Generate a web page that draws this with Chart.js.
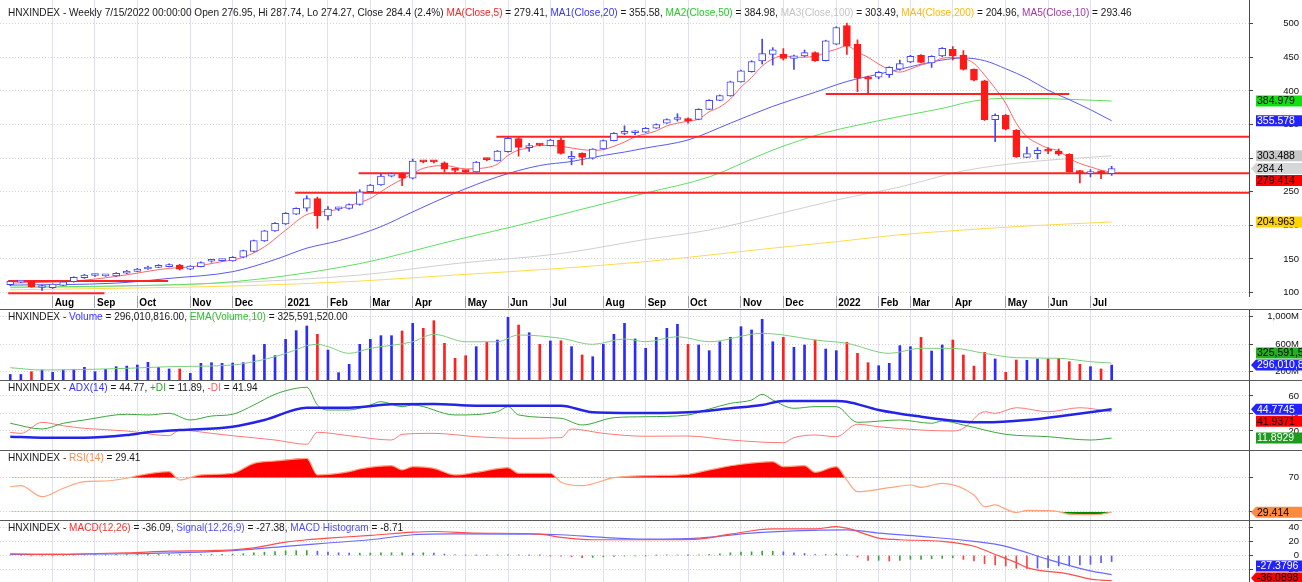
<!DOCTYPE html>
<html lang="en">
<head>
<meta charset="UTF-8">
<title>HNXINDEX - Weekly</title>
<script src="https://cdn.jsdelivr.net/npm/chart.js"></script>
<style>
  html, body { margin: 0; padding: 0; background: #fff; }
  #board { position: relative; width: 1302px; height: 582px; overflow: hidden; }
  #board canvas { position: absolute; left: 0; }
  .sep { position: absolute; left: 0; width: 1302px; height: 1px; background: #5a5a5a; }
</style>
</head>
<body>
<div id="board">
  <canvas id="priceChart" width="1302" height="309" style="top:0"></canvas>
  <div class="sep" style="top:309px"></div>
  <canvas id="volChart" width="1302" height="70" style="top:310px"></canvas>
  <div class="sep" style="top:380px"></div>
  <canvas id="adxChart" width="1302" height="69" style="top:381px"></canvas>
  <div class="sep" style="top:450px"></div>
  <canvas id="rsiChart" width="1302" height="69" style="top:451px"></canvas>
  <div class="sep" style="top:520px"></div>
  <canvas id="macdChart" width="1302" height="61" style="top:521px"></canvas>
</div>

<script>
// one bar per week, 7/10/2020 .. 7/15/2022 (no bar for the Tet week 2/4/2022)
const monthAt   = [4, 8, 12, 17, 21, 26, 30, 34, 38, 43, 47, 51, 56, 60, 64, 69, 73, 78, 82, 85, 89, 94, 98, 102];
const monthName = ['Aug', 'Sep', 'Oct', 'Nov', 'Dec', '2021', 'Feb', 'Mar', 'Apr', 'May', 'Jun', 'Jul',
                   'Aug', 'Sep', 'Oct', 'Nov', 'Dec', '2022', 'Feb', 'Mar', 'Apr', 'May', 'Jun', 'Jul'];
const lastDate = '7/15/2022 00:00:00';

const open = [
  111.6, 115.5, 117, 107.5, 107.2, 110.5, 116, 122, 125.3, 124.8,
  124.6, 128.6, 131.5, 135, 137.5, 138.5, 141, 134.6, 138.5, 146.5,
  147.5, 147, 152.5, 161, 176.8, 191.7, 202, 216.5, 225.4, 239.8,
  214, 224.5, 225, 231, 250, 260, 273, 277, 270, 295,
  295, 293, 282.5, 280.5, 279.6, 298.5, 296, 309.5, 329, 315.5,
  320, 318.6, 327, 299.6, 307, 300, 313.5, 326, 336.8, 337.8,
  338.5, 344.5, 352, 357.5, 359, 357.7, 372.6, 386, 392.7, 413.5,
  428.8, 444.7, 454.4, 454.4, 448.5, 452, 457, 445, 469.6, 497.4,
  469.6, 421, 420.6, 424, 432.5, 443, 452.9, 441.5, 451.9, 462,
  453.5, 432, 415, 357.3, 363.7, 341.4, 301, 306.7, 311, 310.6,
  305.7, 280, 277, 281, 276.95];
const high = [
  117.5, 116.5, 117.5, 111, 113, 117, 123.5, 127, 127.5, 127,
  129.5, 133, 136, 139.5, 141.5, 142.5, 142, 140, 145.5, 149,
  149.5, 153.5, 163, 178, 192.5, 204, 219, 226, 244, 242,
  228, 227, 232, 253, 261, 277, 278, 278, 298.5, 296,
  296.5, 294.5, 285, 282, 295, 300, 311.5, 331, 330.5, 322,
  321, 328, 330, 310, 308, 314, 327, 338, 348, 341,
  345.5, 351, 358.5, 366, 360, 373.5, 387, 394, 414.5, 431,
  445, 477, 464.4, 463, 453.5, 461, 458, 475.5, 495.5, 501,
  476, 422, 429, 436, 446, 453, 454, 452.5, 464.5, 466,
  460, 433, 416, 366, 365, 342.5, 316.6, 315.6, 315.6, 313.6,
  306.5, 282, 283, 281.5, 287.74];
const low = [
  110, 114.5, 108, 103, 106, 110, 115.5, 121, 124, 124,
  124, 128, 131, 134.5, 137, 138, 133.5, 134, 138, 145,
  146.5, 146.5, 152, 160.5, 176, 191, 201, 216, 221, 195.6,
  208, 222, 224, 230, 249.5, 259.5, 272, 259, 269, 293,
  293, 279, 279, 278, 279, 296, 295.5, 309, 303, 310,
  318, 318, 306, 290, 290, 298.5, 313, 325.5, 335, 335,
  338, 344, 351.5, 355, 352, 357, 372, 385.5, 392, 413,
  428, 440, 438.5, 446, 432, 451, 444, 444.5, 469, 454.4,
  399, 396.4, 418, 420, 431, 442, 441.5, 435, 451, 446,
  431, 415, 356, 324.4, 342, 301, 300.5, 299, 306.7, 304,
  279, 263, 272, 269.5, 274.27];
const close = [
  116.6, 116, 108.5, 108.5, 112.6, 116, 122.5, 126, 125.9, 125.4,
  128.6, 132, 135, 138, 140.5, 141.5, 134.6, 139.5, 144.5, 147.3,
  148.2, 152.5, 162.4, 177.3, 191.7, 203, 218, 225.4, 239.8, 214.5,
  224, 225.3, 231, 250, 260, 273.4, 277, 270, 295.6, 294.3,
  294.3, 283.6, 281.8, 279.8, 294, 297.8, 310.5, 329.3, 316, 316.5,
  319.3, 327, 307, 300.4, 301, 313.5, 326, 337, 337.6, 338.5,
  344.5, 350, 357.5, 358.3, 355.5, 372.6, 386, 393, 413.5, 429.8,
  443.7, 455.6, 461, 448.5, 452.4, 457, 445, 474.6, 494.4, 467,
  419, 417.5, 427.5, 435, 440.5, 451.4, 442.5, 451.4, 463.3, 452,
  432, 416, 357.3, 363.7, 342.9, 301.7, 306.7, 311.6, 310.3, 305.7,
  279.4, 278.5, 277.6, 277.7, 284.4];

// moving averages, read at the weeks listed in the *At arrays
const ma5At = [0, 6, 10, 15, 17, 20, 22, 24, 26, 28, 30, 31, 32, 34, 35, 36, 37, 38, 39, 41, 43, 45, 46, 47, 48, 49, 50,
               52, 54, 55, 56, 57, 58, 59, 61, 62, 64, 65, 66, 67, 68, 69, 70, 71, 72, 73, 74, 76, 77, 78, 79, 80, 81,
               82, 83, 84, 85, 86, 87, 88, 89, 90, 91, 92, 93, 94, 95, 96, 97, 98, 99, 100, 101, 102, 103, 104];
const ma5 = [114, 117, 124, 136, 138, 146, 152.4, 168, 192.7, 216, 221, 224, 229, 240, 250, 260, 268.4, 277, 284.8, 289, 284, 286, 291, 304, 312, 315, 319,
             317.6, 312.6, 311.6, 312.6, 317.6, 324, 331.6, 340.5, 348, 355, 358, 369, 376, 388, 405.6, 420, 437, 447.6, 452.5, 450, 451.5, 457.4, 462, 467, 458, 450,
             440, 432, 428, 432.6, 438.6, 442.5, 448.5, 450, 448.5, 441, 423.7, 403.8, 381.5, 351.7, 331.9, 322, 314.6, 311, 299.6, 292, 287, 282, 279.414];
const ma20At = [0, 10, 15, 21, 25, 28, 31, 35, 38, 42, 46, 50, 53, 56, 58, 60, 64, 68, 72, 76, 79, 82, 85, 88, 90, 92, 94, 96, 98, 100, 102, 104];
const ma20 = [111, 114, 121, 131, 149, 166, 177, 198, 220, 248, 272, 289, 295, 304, 309, 315, 327, 352, 377, 398, 414, 425, 436, 446, 449, 445, 433, 419, 401, 387, 372, 355.578];
const ma50At = [0, 11, 21, 33, 42, 48, 50, 60, 66, 72, 77, 80, 84, 88, 91, 94, 98, 104];
const ma50 = [108, 110, 116, 143, 178, 200, 208, 248, 272, 312, 338, 349, 362, 374, 385, 389, 388.5, 384.979];
const ma100At = [0, 12, 20, 33, 42, 52, 60, 66, 72, 78, 84, 90, 96, 104];
const ma100 = [107, 110, 114, 126, 143, 158, 179, 193, 215, 237.6, 257, 281, 294, 303.488];
const ma200At = [0, 11, 22, 33, 42, 52, 60, 72, 78, 84, 90, 96, 104];
const ma200 = [104, 106.5, 110, 117, 126, 136, 146, 166, 175.6, 186, 193, 199, 204.963];
const ma10Last = 293.46;

// support / resistance levels: price, first week, last week
const levelPrice = [117, 99, 248.5, 277.4, 331.8, 395.4];
const levelFrom  = [-0.2, -0.2, 26.9, 32.9, 45.9, 77];
const levelTo    = [14.9, 8.9, 117, 117, 117, 100];

// volume in millions and its EMA(10)
const volume = [
  160, 160, 200, 225, 191, 225, 235, 264, 200, 235,
  273, 282, 297, 336, 264, 240, 240, 176, 322, 331,
  322, 326, 331, 443, 598, 433, 671, 797, 865, 744,
  515, 186, 307, 598, 671, 724, 724, 792, 903, 831,
  942, 613, 395, 433, 564, 627, 661, 991, 879, 767,
  598, 647, 651, 564, 443, 418, 598, 744, 903, 676,
  540, 700, 831, 889, 598, 589, 506, 636, 700, 855,
  807, 962, 636, 700, 555, 589, 661, 530, 506, 627,
  467, 331, 287, 322, 579, 564, 700, 501, 589, 661,
  443, 282, 482, 385, 191, 370, 366, 385, 385, 395,
  346, 307, 273, 240, 296.010816];
const volEmaAt = [0, 3, 11, 15, 21, 23, 25, 27, 28, 29, 30, 32, 34, 38, 40, 43, 46, 48, 52, 55, 58, 60, 63, 66, 71, 73, 76, 79,
                  83, 86, 89, 92, 95, 99, 102, 104];
const volEma = [258, 225, 249, 273, 297, 346, 418, 520, 578, 598, 564, 467, 540, 636, 744, 636, 636, 734, 686, 598, 676, 636, 709, 636, 758, 734, 661, 613,
                467, 540, 540, 467, 404, 395, 346, 325.59152];

// ADX(14), +DI, -DI
const adxAt = [0, 3, 7, 11, 13, 16, 21, 24, 28, 32, 36, 40, 44, 52, 55, 60, 65, 68, 71, 73, 78, 79, 82, 86, 90, 92, 96, 100, 104];
const adx = [13.5, 12.4, 12.4, 15.4, 18.5, 21.1, 24.9, 32.6, 46.6, 46.6, 50.5, 50.9, 48.9, 48.9, 41.4, 40.5, 42, 45.9, 49.7, 54.3, 54.3, 53.5, 44, 36.3, 30.6, 29.9, 32.6, 38.3, 44.7745];
const pdiAt = [0, 3, 5, 7, 11, 13, 15, 17, 19, 21, 23, 25, 27, 28, 29, 30, 32, 34, 35, 37, 38, 42, 46, 47, 48, 52, 54, 57, 60, 64,
               66, 68, 70, 71, 72, 74, 76, 78, 80, 84, 87, 88, 90, 94, 98, 102, 104];
const pdi = [28.8, 22.3, 28.8, 32.6, 39.1, 38.3, 40.2, 32.6, 37.1, 39.1, 49.7, 61.9, 68.8, 69.9, 49.7, 44, 44, 49.7, 53.5, 47.8, 49.7, 38.3, 42, 47.8, 38.3, 34.5, 26.9, 35.2, 36.3, 38.3,
             45.1, 51.6, 55.4, 61.9, 55.4, 45.9, 47.8, 47.8, 29.9, 32.6, 28.8, 31.4, 26.9, 16.2, 13.5, 9.7, 11.8929];
const mdiAt = [0, 1, 3, 5, 7, 11, 15, 16, 19, 21, 25, 28, 29, 32, 36, 37, 40, 44, 48, 52, 53, 56, 60, 64, 68, 73, 74, 76, 78, 80,
               82, 86, 89, 90, 92, 93, 95, 98, 101, 104];
const mdi = [18.5, 17.3, 29.9, 26, 23, 20, 14.6, 21.1, 17.3, 14.6, 9.7, 4.8, 18.5, 14.6, 9.7, 16.2, 17.3, 13.5, 11.7, 12.4, 22.3, 17.3, 14, 14.3, 9.7, 6.6, 12.4, 15.4, 13.5, 27.7,
             24.9, 21.1, 20, 23, 42, 40.2, 46.6, 42, 46.6, 41.9371];

// RSI(14)
const rsiAt = [0, 1, 3, 5, 7, 9, 11, 12, 15, 16, 18, 21, 23, 25, 28, 29, 32, 33, 36, 37, 38, 40, 42, 44, 47, 48, 51, 52, 54, 57,
               60, 64, 66, 69, 72, 73, 75, 76, 78, 79, 80, 83, 85, 86, 88, 91, 92, 93, 94, 95, 96, 98, 99, 100, 102, 103, 104];
const rsi = [59.4, 60.6, 47.6, 57.5, 65.3, 66.1, 69.3, 72.4, 77.1, 67.3, 73.2, 75.2, 86.9, 89.6, 92.8, 73.2, 77.1, 80.2, 84.1, 79.1, 83, 81, 73.2, 76.4, 81.8, 75.2, 75.2, 64.6, 60.6, 70,
             72.4, 74, 79.1, 85.8, 88.8, 83, 84.1, 76.4, 83, 67, 53.5, 58.2, 61.4, 58.7, 63.4, 49.6, 35.9, 37.9, 33, 29, 31.5, 31.2, 30, 27, 26.5, 27, 29.414];

// MACD(12,26), signal(12,26,9) and histogram
const macdAt = [0, 4, 7, 11, 15, 19, 21, 23, 26, 28, 30, 34, 38, 40, 44, 50, 52, 55, 60, 65, 68, 72, 76, 78, 79, 82, 84, 88, 91, 93, 95, 96, 100, 102, 103, 104];
const macd = [2.4, 1.4, 2.4, 3.8, 6.1, 7, 8, 10.8, 19, 22.5, 24.9, 28.6, 33.3, 34.3, 32, 30.5, 25.8, 22.5, 22.5, 23.5, 30.5, 38, 38, 41.3, 39, 24.9, 22.5, 20.2, 13.1, 1.4, -10.3, -17.4, -26.8, -33.8, -35.3, -36.0898];
const signalAt = [0, 11, 21, 26, 30, 34, 38, 42, 48, 52, 56, 60, 65, 70, 74, 79, 82, 86, 91, 94, 98, 102, 104];
const signal = [1.4, 2.4, 7, 13.1, 17.8, 22.5, 29.6, 31, 30.5, 29.6, 25.8, 23.5, 24.9, 32, 35.2, 36.6, 32, 27.2, 20.2, 13.1, -5.6, -22.1, -27.3796];
const hist = [
  0.6, 0.3, -0.5, -0.6, -0.3, 0.2, 0.5, 0.8, 0.9, 1.0,
  1.2, 1.3, 1.4, 1.5, 1.6, 1.6, 1.2, 1.0, 1.2, 1.4,
  1.5, 1.8, 2.5, 3.8, 4.7, 5.6, 6.6, 7.0, 7.0, 6.1,
  4.7, 3.8, 3.3, 3.3, 3.4, 3.8, 3.8, 3.8, 3.3, 3.8,
  3.3, 1.9, 0.8, 0.4, 0.3, 0.3, 0.4, 0.6, 0.5, 0.3,
  0.2, -0.3, -0.9, -1.9, -3.3, -2.8, -1.9, -1.4, -0.9, -0.5,
  -0.2, 0.3, 0.6, 0.8, 0.5, 0.8, 1.4, 2.3, 3.8, 4.7,
  5.2, 6.1, 6.1, 5.2, 3.8, 2.8, 1.4, 1.4, 2.3, 0.3,
  -2.3, -7.0, -7.0, -8.0, -7.0, -5.6, -5.6, -4.7, -4.2, -3.3,
  -5.6, -8.0, -11.7, -13.6, -15.0, -18.3, -18.5, -18.3, -17.4, -15.0,
  -15.0, -13.6, -12.7, -10.3, -8.7102];

// ---- drawing ----
const FONT = '"Liberation Sans", Arial, sans-serif';
Chart.defaults.font.family = FONT;
const X_MIN = -0.97, X_MAX = 116.97;
const INK = '#1a1a1a';
const UP = '#4646ff', DOWN = '#ff1a1a';
const last = a => a[a.length - 1];
const idx = close.map((_, i) => i);
const isUp = i => close[i] >= open[i];
const pts = (at, vals) => at.map((x, k) => ({ x, y: vals[k] }));
const lastAt = (at, vals, i) => { let v = vals[0]; at.forEach((x, k) => { if (x <= i) v = vals[k]; }); return v; };
const boxText = v => String(+v.toPrecision(6));

function line(at, vals, color, width, order) {
  return { type: 'line', data: pts(at, vals), borderColor: color, borderWidth: width, pointRadius: 0,
           cubicInterpolationMode: 'monotone', fill: false, order };
}

function xAxis(labels) {
  return {
    type: 'linear', min: X_MIN, max: X_MAX, offset: false,
    afterBuildTicks: s => { s.ticks = monthAt.map(v => ({ value: v })); },
    afterFit: s => { s.height = labels ? 13 : 0; s.paddingLeft = 0; s.paddingRight = 0; },
    grid: { offset: false, color: '#dfdff6', tickColor: '#a0a0b0', drawTicks: labels, tickLength: 12 },
    border: { display: false },
    ticks: { display: labels, autoSkip: false, maxRotation: 0, align: 'start', padding: -11, labelOffset: 2,
             color: '#000', font: { size: 10, weight: 'bold' }, callback: (v, i) => monthName[i] }
  };
}

function yAxis(min, max, ticks, fmt) {
  return {
    type: 'linear', position: 'right', min, max,
    afterBuildTicks: s => { s.ticks = ticks.map(v => ({ value: v })); },
    afterFit: s => { s.width = 50; s.paddingTop = 0; s.paddingBottom = 0; },
    grid: { color: '#d2d2d2', tickColor: '#444', tickLength: 4 },
    border: { display: true, color: '#4a4a4a', dash: [1, 2] },
    ticks: { color: '#111', font: { size: 9.5 }, crossAlign: 'far', padding: 0, callback: fmt || (v => String(v)) }
  };
}

// pane caption (multi-coloured) and the value tags on the right axis
const paneDecor = {
  id: 'paneDecor',
  afterDraw(chart, args, opts) {
    const ctx = chart.ctx, ys = chart.scales.y;
    ctx.save();
    ctx.textBaseline = 'middle';
    ctx.textAlign = 'left';
    ctx.font = '10.08px ' + FONT;
    let x = 8;
    opts.title.forEach(([text, color]) => {
      ctx.fillStyle = color;
      ctx.fillText(text, x, opts.titleY);
      x += ctx.measureText(text).width;
    });
    const h = 11, gap = 12, left = ys.left + 7, right = chart.width;
    const used = [];
    ctx.font = '10.5px ' + FONT;
    (opts.boxes || []).forEach(b => {
      let y = Math.min(ys.getPixelForValue(b.value), chart.chartArea.bottom - 4);
      used.forEach(u => { if (Math.abs(y - u) < gap) y = y >= u ? u + gap : u - gap; });
      used.push(y);
      ctx.fillStyle = b.bg;
      ctx.beginPath();
      if (b.arrow) { ctx.moveTo(ys.left + 2, y); ctx.lineTo(left, y - h / 2); }
      else ctx.moveTo(left, y - h / 2);
      ctx.lineTo(right, y - h / 2);
      ctx.lineTo(right, y + h / 2);
      ctx.lineTo(left, y + h / 2);
      ctx.closePath();
      ctx.fill();
      ctx.fillStyle = b.fg;
      ctx.fillText(b.text, left + 1, y + 0.5);
    });
    ctx.restore();
  }
};

const base = { responsive: false, animation: false, events: [], layout: { padding: { right: 3 } } };
const quiet = { legend: { display: false }, tooltip: { enabled: false } };

// price pane
const C = { ma5: '#ff6666', ma20: '#5a5af0', ma50: '#5fe05f', ma100: '#cfcfcf', ma200: '#ffdb4d', ma10: '#aa33aa' };
const chg = ((last(close) / close[close.length - 2] - 1) * 100).toFixed(1);
const f2 = v => v.toFixed(2);

new Chart(document.getElementById('priceChart'), {
  type: 'bar',
  data: {
    datasets: [
      { type: 'bar', data: idx.map(i => ({ x: i, y: [open[i], close[i]] })), order: 0, grouped: false,
        backgroundColor: idx.map(i => isUp(i) ? '#ffffff' : DOWN), borderColor: idx.map(i => isUp(i) ? UP : DOWN),
        borderWidth: 1, borderSkipped: false, barThickness: 7, minBarLength: 2 },
      { type: 'bar', data: idx.map(i => ({ x: i, y: [low[i], high[i]] })), order: 1, grouped: false,
        backgroundColor: idx.map(i => isUp(i) ? UP : DOWN), barThickness: 1 },
      ...levelPrice.map((p, k) => ({ type: 'line', data: [{ x: levelFrom[k], y: p }, { x: levelTo[k], y: p }],
        borderColor: '#ff2424', borderWidth: 2, pointRadius: 0, order: 2 })),
      line(ma5At, ma5, C.ma5, 1, 3),
      line(ma20At, ma20, C.ma20, 1, 4),
      line(ma50At, ma50, C.ma50, 1, 5),
      line(ma100At, ma100, C.ma100, 1, 6),
      line(ma200At, ma200, C.ma200, 1, 7)
    ]
  },
  options: {
    ...base,
    scales: { x: xAxis(true), y: yAxis(94.8, 535.3, [100, 150, 200, 250, 300, 350, 400, 450, 500]) },
    plugins: {
      ...quiet,
      paneDecor: {
        titleY: 13,
        title: [
          [`HNXINDEX - Weekly ${lastDate} Open ${last(open)}, Hi ${last(high)}, Lo ${last(low)}, Close ${last(close)} (${chg}%) `, INK],
          ['MA(Close,5)', '#ff2020'], [` = ${f2(last(ma5))}, `, INK],
          ['MA1(Close,20)', '#3333ff'], [` = ${f2(last(ma20))}, `, INK],
          ['MA2(Close,50)', '#22cc22'], [` = ${f2(last(ma50))}, `, INK],
          ['MA3(Close,100)', '#c4c4c4'], [` = ${f2(last(ma100))}, `, INK],
          ['MA4(Close,200)', '#ffbb00'], [` = ${f2(last(ma200))}, `, INK],
          ['MA5(Close,10)', C.ma10], [` = ${f2(ma10Last)}`, INK]
        ],
        boxes: [
          { value: last(close), text: boxText(last(close)), bg: '#d6d6d6', fg: '#000', arrow: true },
          { value: last(ma50), text: boxText(last(ma50)), bg: '#10e010', fg: '#000' },
          { value: last(ma20), text: boxText(last(ma20)), bg: '#2323ff', fg: '#fff' },
          { value: last(ma100), text: boxText(last(ma100)), bg: '#c8c8c8', fg: '#000' },
          { value: last(ma5), text: boxText(last(ma5)), bg: '#ff0000', fg: '#000' },
          { value: last(ma200), text: boxText(last(ma200)), bg: '#ffd400', fg: '#000' }
        ]
      }
    }
  },
  plugins: [paneDecor]
});

// volume pane
const fullNum = m => Math.round(m * 1e6).toLocaleString('en-US');
new Chart(document.getElementById('volChart'), {
  type: 'bar',
  data: {
    datasets: [
      { type: 'bar', data: idx.map(i => ({ x: i, y: volume[i] })), backgroundColor: idx.map(i => isUp(i) ? '#2b2bff' : '#ff2020'),
        barThickness: 2, order: 1 },
      line(volEmaAt, volEma, '#7ccf7c', 1, 0)
    ]
  },
  options: {
    ...base,
    scales: { x: xAxis(false), y: yAxis(79.3, 1097.5, [200, 400, 600, 800, 1000], v => v.toLocaleString('en-US') + 'M') },
    plugins: {
      ...quiet,
      paneDecor: {
        titleY: 7,
        title: [['HNXINDEX - ', INK], ['Volume', '#3333ff'], [` = ${fullNum(last(volume))}.00, `, INK],
                ['EMA(Volume,10)', '#33bb33'], [` = ${fullNum(last(volEma))}.00`, INK]],
        boxes: [
          { value: last(volume), text: fullNum(last(volume)), bg: '#2323ff', fg: '#fff', arrow: true },
          { value: last(volEma), text: fullNum(last(volEma)), bg: '#22b022', fg: '#000' }
        ]
      }
    }
  },
  plugins: [paneDecor]
});

// ADX pane
new Chart(document.getElementById('adxChart'), {
  type: 'line',
  data: {
    datasets: [
      line(adxAt, adx, '#2424e8', 2.5, 0),
      line(pdiAt, pdi, '#3aa83a', 1, 1),
      line(mdiAt, mdi, '#ff7878', 1, 2)
    ]
  },
  options: {
    ...base,
    scales: { x: xAxis(false), y: yAxis(-1.7, 77.1, [20, 40, 60]) },
    plugins: {
      ...quiet,
      paneDecor: {
        titleY: 7,
        title: [['HNXINDEX - ', INK], ['ADX(14)', '#3333ff'], [` = ${f2(last(adx))}, `, INK],
                ['+DI', '#22aa22'], [` = ${f2(last(pdi))}, `, INK], ['-DI', '#ff5a5a'], [` = ${f2(last(mdi))}`, INK]],
        boxes: [
          { value: last(adx), text: boxText(last(adx)), bg: '#2323ff', fg: '#fff', arrow: true },
          { value: last(mdi), text: boxText(last(mdi)), bg: '#ff0000', fg: '#000' },
          { value: last(pdi), text: boxText(last(pdi)), bg: '#1f9a1f', fg: '#fff' }
        ]
      }
    }
  },
  plugins: [paneDecor]
});

// RSI pane
new Chart(document.getElementById('rsiChart'), {
  type: 'line',
  data: {
    datasets: [
      { type: 'line', data: pts(rsiAt, rsi), borderColor: '#ffa47e', borderWidth: 1.2, pointRadius: 0,
        cubicInterpolationMode: 'monotone', fill: { target: { value: 70 }, above: '#ff0000', below: 'rgba(0,0,0,0)' } },
      { type: 'line', data: pts(rsiAt, rsi), borderWidth: 0, pointRadius: 0,
        cubicInterpolationMode: 'monotone', fill: { target: { value: 30 }, above: 'rgba(0,0,0,0)', below: '#008a00' } }
    ]
  },
  options: {
    ...base,
    scales: { x: xAxis(false), y: yAxis(20.2, 101.4, [30, 70]) },
    plugins: {
      ...quiet,
      paneDecor: {
        titleY: 7,
        title: [['HNXINDEX - ', INK], ['RSI(14)', '#ff8a4a'], [` = ${f2(last(rsi))}`, INK]],
        boxes: [{ value: last(rsi), text: boxText(last(rsi)), bg: '#ff8a3d', fg: '#000', arrow: true }]
      }
    }
  },
  plugins: [paneDecor]
});

// MACD pane
const GREEN = '#3da53d', BLUE = '#5b5bff', RED = '#ff4040';
const histColor = hist.map((h, i) => {
  if (i === 0 || h >= hist[i - 1]) return lastAt(macdAt, macd, i) > 0 ? GREEN : BLUE;
  return h > 0 ? BLUE : RED;
});
new Chart(document.getElementById('macdChart'), {
  type: 'bar',
  data: {
    datasets: [
      { type: 'bar', data: idx.map(i => ({ x: i, y: hist[i] })), backgroundColor: histColor, barThickness: 1, order: 2 },
      line(macdAt, macd, '#ff4d4d', 1.2, 0),
      line(signalAt, signal, '#6a6aff', 1.2, 1)
    ]
  },
  options: {
    ...base,
    scales: { x: xAxis(false), y: yAxis(-38, 49.3, [-20, 0, 20, 40]) },
    plugins: {
      ...quiet,
      paneDecor: {
        titleY: 7,
        title: [['HNXINDEX - ', INK], ['MACD(12,26)', '#ff3030'], [` = ${f2(last(macd))}, `, INK],
                ['Signal(12,26,9)', '#4d4dff'], [` = ${f2(last(signal))}, `, INK],
                ['MACD Histogram', '#4d4dff'], [` = ${f2(last(hist))}`, INK]],
        boxes: [
          { value: last(macd), text: boxText(last(macd)), bg: '#ff0000', fg: '#000', arrow: true },
          { value: last(signal), text: boxText(last(signal)), bg: '#2323ff', fg: '#fff' }
        ]
      }
    }
  },
  plugins: [paneDecor]
});
</script>
</body>
</html>
